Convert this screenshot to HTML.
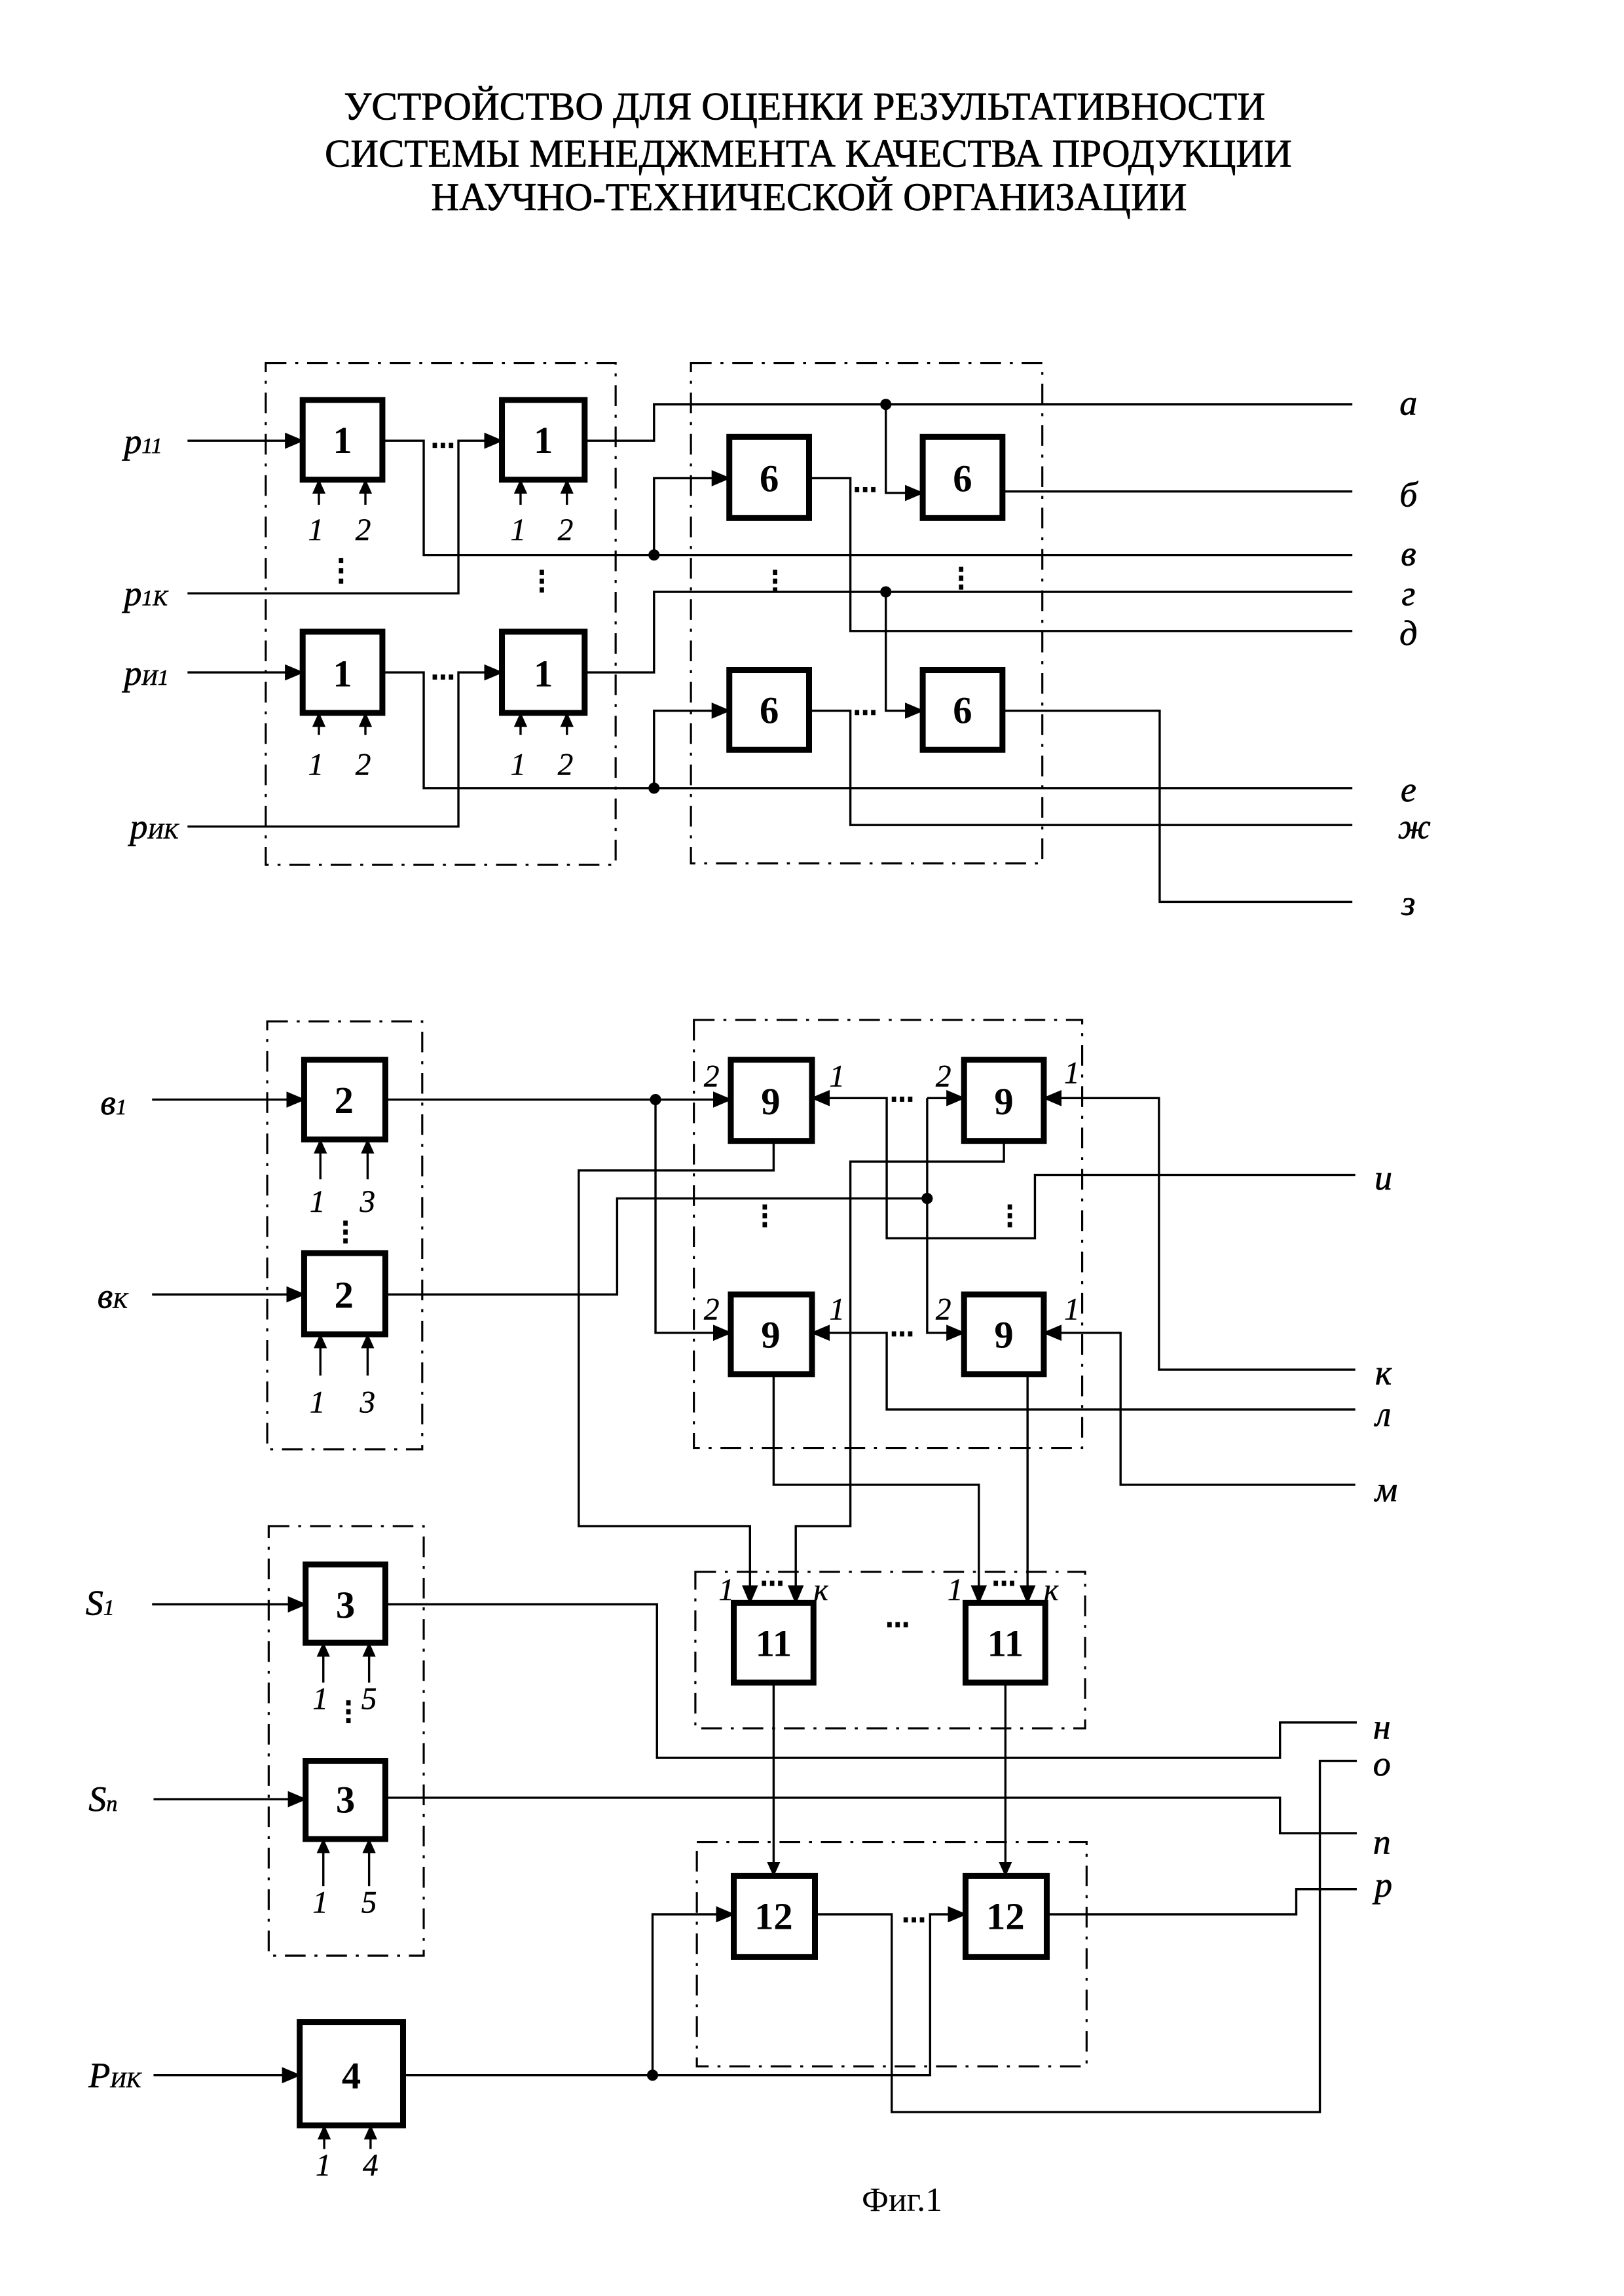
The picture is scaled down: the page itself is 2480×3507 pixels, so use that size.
<!DOCTYPE html>
<html><head><meta charset="utf-8">
<style>
html,body{margin:0;padding:0;background:#fff;}
svg{display:block;}
text{font-family:"Liberation Serif","DejaVu Serif",serif;fill:#000;}
.t{font-size:27px;stroke:#000;stroke-width:0.35;}
.n{font-size:26px;font-weight:bold;text-anchor:middle;}
.l{font-size:24px;font-style:italic;stroke:#000;stroke-width:0.3;}
.s{font-size:21px;font-style:italic;text-anchor:middle;stroke:#000;stroke-width:0.2;}
.sub{font-size:15px;font-style:italic;}
.w{fill:none;stroke:#000;stroke-width:1.5;}
.b{fill:#fff;stroke:#000;stroke-width:4;}
.d{fill:none;stroke:#000;stroke-width:1.4;stroke-dasharray:14,6,2,6;}
</style></head>
<body>
<svg width="2480" height="3507" viewBox="0 0 1100 1555.6" preserveAspectRatio="none" xmlns="http://www.w3.org/2000/svg">
<defs>
<marker id="a" markerUnits="userSpaceOnUse" markerWidth="13" markerHeight="11" refX="12" refY="5.5" orient="auto"><path d="M0,0 L13,5.5 L0,11 z" fill="#000"/></marker>
<marker id="m" markerUnits="userSpaceOnUse" markerWidth="10" markerHeight="9" refX="9.5" refY="4.5" orient="auto"><path d="M0,0 L10,4.5 L0,9 z" fill="#000"/></marker>
</defs>
<rect width="1100" height="1556" fill="#fff"/>

<text class="t" x="233" y="81" textLength="624" lengthAdjust="spacingAndGlyphs">УСТРОЙСТВО ДЛЯ ОЦЕНКИ РЕЗУЛЬТАТИВНОСТИ</text>
<text class="t" x="220" y="113" textLength="655" lengthAdjust="spacingAndGlyphs">СИСТЕМЫ МЕНЕДЖМЕНТА КАЧЕСТВА ПРОДУКЦИИ</text>
<text class="t" x="292" y="142.5" textLength="512" lengthAdjust="spacingAndGlyphs">НАУЧНО-ТЕХНИЧЕСКОЙ ОРГАНИЗАЦИИ</text>

<rect class="d" x="180" y="246" width="237" height="340"/>
<rect class="d" x="468" y="246" width="238" height="339"/>

<path class="w" d="M127,298.6 H205" marker-end="url(#a)"/>
<path class="w" d="M259,298.6 H287 V376 H916"/>
<path class="w" d="M127,402 H310.5 V298.6 H340" marker-end="url(#a)"/>
<path class="w" d="M396,298.6 H443 V274 H916"/>
<path class="w" d="M443,376 V324 H494" marker-end="url(#a)"/>
<path class="w" d="M600,274 V334 H625" marker-end="url(#a)"/>
<path class="w" d="M548,324 H576 V427.5 H916"/>
<path class="w" d="M679,333 H916"/>
<path class="w" d="M127,455.6 H205" marker-end="url(#a)"/>
<path class="w" d="M259,455.6 H287 V534 H916"/>
<path class="w" d="M127,560 H310.5 V455.6 H340" marker-end="url(#a)"/>
<path class="w" d="M396,455.6 H443 V401 H916"/>
<path class="w" d="M443,534 V481.5 H494" marker-end="url(#a)"/>
<path class="w" d="M600,401 V481.5 H625" marker-end="url(#a)"/>
<path class="w" d="M548,481.5 H576 V559 H916"/>
<path class="w" d="M679,481.5 H785.5 V611 H916"/>
<circle cx="443" cy="376" r="3.8"/><circle cx="443" cy="534" r="3.8"/>
<circle cx="600" cy="274" r="3.8"/><circle cx="600" cy="401" r="3.8"/>

<g class="w">
<path d="M216,342 V325" marker-end="url(#m)"/><path d="M247.5,342 V325" marker-end="url(#m)"/>
<path d="M352.6,342 V325" marker-end="url(#m)"/><path d="M384,342 V325" marker-end="url(#m)"/>
<path d="M216,498 V483" marker-end="url(#m)"/><path d="M247.5,498 V483" marker-end="url(#m)"/>
<path d="M352.6,498 V483" marker-end="url(#m)"/><path d="M384,498 V483" marker-end="url(#m)"/>
</g>
<text class="s" x="214" y="366">1</text><text class="s" x="246" y="366">2</text>
<text class="s" x="351" y="366">1</text><text class="s" x="383" y="366">2</text>
<text class="s" x="214" y="525">1</text><text class="s" x="246" y="525">2</text>
<text class="s" x="351" y="525">1</text><text class="s" x="383" y="525">2</text>

<rect class="b" x="205" y="271" width="54" height="54"/>
<rect class="b" x="340" y="271" width="56" height="54"/>
<rect class="b" x="205" y="428" width="54" height="55"/>
<rect class="b" x="340" y="428" width="56" height="55"/>
<rect class="b" x="494" y="296" width="54" height="55"/>
<rect class="b" x="625" y="296" width="54" height="55"/>
<rect class="b" x="494" y="454" width="54" height="54"/>
<rect class="b" x="625" y="454" width="54" height="54"/>
<text class="n" x="232" y="307">1</text><text class="n" x="368" y="307">1</text>
<text class="n" x="232" y="465">1</text><text class="n" x="368" y="465">1</text>
<text class="n" x="521" y="333">6</text><text class="n" x="652" y="333">6</text>
<text class="n" x="521" y="490">6</text><text class="n" x="652" y="490">6</text>

<g fill="#000">
<rect x="293" y="300" width="3" height="3.5"/><rect x="298.5" y="300" width="3" height="3.5"/><rect x="304" y="300" width="3" height="3.5"/>
<rect x="293" y="457" width="3" height="3.5"/><rect x="298.5" y="457" width="3" height="3.5"/><rect x="304" y="457" width="3" height="3.5"/>
<rect x="579" y="330" width="3" height="3.5"/><rect x="584.5" y="330" width="3" height="3.5"/><rect x="590" y="330" width="3" height="3.5"/>
<rect x="579" y="481" width="3" height="3.5"/><rect x="584.5" y="481" width="3" height="3.5"/><rect x="590" y="481" width="3" height="3.5"/>
<rect x="229.5" y="378" width="3" height="3.5"/><rect x="229.5" y="385" width="3" height="3.5"/><rect x="229.5" y="392" width="3" height="3.5"/>
<rect x="365.5" y="386" width="3" height="3.5"/><rect x="365.5" y="392" width="3" height="3.5"/><rect x="365.5" y="398" width="3" height="3.5"/>
<rect x="523.5" y="386" width="3" height="3.5"/><rect x="523.5" y="392" width="3" height="3.5"/><rect x="523.5" y="398" width="3" height="3.5"/>
<rect x="649.5" y="384" width="3" height="3.5"/><rect x="649.5" y="390" width="3" height="3.5"/><rect x="649.5" y="396" width="3" height="3.5"/>
</g>

<text class="l" x="84" y="307" font-size="26">p<tspan class="sub">11</tspan></text>
<text class="l" x="84" y="410" font-size="26">p<tspan class="sub">1К</tspan></text>
<text class="l" x="84" y="464" font-size="26">p<tspan class="sub">И1</tspan></text>
<text class="l" x="88" y="568" font-size="26">p<tspan class="sub">ИК</tspan></text>
<g class="l" text-anchor="middle">
<text x="954" y="281">а</text><text x="954" y="343">б</text><text x="954" y="383">в</text>
<text x="954" y="410">г</text><text x="954" y="437">д</text><text x="954" y="543">е</text>
<text x="958" y="568">ж</text><text x="954" y="620">з</text>
</g>

<rect class="d" x="181" y="692" width="105" height="290"/>
<rect class="d" x="470" y="691" width="263" height="290"/>

<path class="w" d="M103,745 H206" marker-end="url(#a)"/>
<path class="w" d="M103,877 H206" marker-end="url(#a)"/>
<path class="w" d="M261,745 H495" marker-end="url(#a)"/>
<path class="w" d="M444,745 V903 H495" marker-end="url(#a)"/>
<path class="w" d="M261,877 H418 V812 H628"/>
<path class="w" d="M628,744 H653" marker-end="url(#a)"/>
<path class="w" d="M628,744 V903 H653" marker-end="url(#a)"/>
<path class="w" d="M918,796 H701 V839 H600.6 V744 H550" marker-end="url(#a)"/>
<path class="w" d="M918,928 H785 V744 H707" marker-end="url(#a)"/>
<path class="w" d="M918,955 H600.6 V903 H550" marker-end="url(#a)"/>
<path class="w" d="M918,1006 H759 V903 H707" marker-end="url(#a)"/>
<path class="w" d="M524,773 V793 H392 V1034 H508 V1086" marker-end="url(#a)"/>
<path class="w" d="M680,773 V787 H576 V1034 H539 V1086" marker-end="url(#a)"/>
<path class="w" d="M524,931 V1006 H663 V1086" marker-end="url(#a)"/>
<path class="w" d="M696,931 V1086" marker-end="url(#a)"/>
<circle cx="444" cy="745" r="3.8"/><circle cx="628" cy="812" r="3.8"/>

<g class="w">
<path d="M217,799 V772" marker-end="url(#m)"/><path d="M249,799 V772" marker-end="url(#m)"/>
<path d="M217,932 V904" marker-end="url(#m)"/><path d="M249,932 V904" marker-end="url(#m)"/>
</g>
<text class="s" x="215" y="821">1</text><text class="s" x="249" y="821">3</text>
<text class="s" x="215" y="957">1</text><text class="s" x="249" y="957">3</text>

<rect class="b" x="206" y="718" width="55" height="54"/>
<rect class="b" x="206" y="849" width="55" height="55"/>
<rect class="b" x="495" y="718" width="55" height="55"/>
<rect class="b" x="653" y="718" width="54" height="55"/>
<rect class="b" x="495" y="877" width="55" height="54"/>
<rect class="b" x="653" y="877" width="54" height="54"/>
<text class="n" x="233" y="754">2</text><text class="n" x="233" y="886">2</text>
<text class="n" x="522" y="755">9</text><text class="n" x="680" y="755">9</text>
<text class="n" x="522" y="913">9</text><text class="n" x="680" y="913">9</text>

<text class="s" x="482" y="736">2</text><text class="s" x="567" y="736">1</text>
<text class="s" x="639" y="736">2</text><text class="s" x="726" y="734">1</text>
<text class="s" x="482" y="894">2</text><text class="s" x="567" y="894">1</text>
<text class="s" x="639" y="894">2</text><text class="s" x="726" y="894">1</text>

<g fill="#000">
<rect x="604" y="743" width="3" height="3.5"/><rect x="609.5" y="743" width="3" height="3.5"/><rect x="615" y="743" width="3" height="3.5"/>
<rect x="604" y="902" width="3" height="3.5"/><rect x="609.5" y="902" width="3" height="3.5"/><rect x="615" y="902" width="3" height="3.5"/>
<rect x="232.5" y="827" width="3" height="3.5"/><rect x="232.5" y="833" width="3" height="3.5"/><rect x="232.5" y="839" width="3" height="3.5"/>
<rect x="516.5" y="816" width="3" height="3.5"/><rect x="516.5" y="822" width="3" height="3.5"/><rect x="516.5" y="828" width="3" height="3.5"/>
<rect x="682.5" y="816" width="3" height="3.5"/><rect x="682.5" y="822" width="3" height="3.5"/><rect x="682.5" y="828" width="3" height="3.5"/>
</g>

<text class="l" x="68" y="755">в<tspan class="sub">1</tspan></text>
<text class="l" x="66" y="886">в<tspan class="sub">К</tspan></text>
<g class="l" text-anchor="middle">
<text x="937" y="806">и</text><text x="937" y="938">к</text><text x="937" y="966">л</text><text x="939" y="1017">м</text>
</g>

<rect class="d" x="182" y="1034" width="105" height="291"/>
<rect class="d" x="471" y="1065" width="264" height="106"/>
<rect class="d" x="472" y="1248" width="264" height="152"/>

<path class="w" d="M103,1087 H207" marker-end="url(#a)"/>
<path class="w" d="M104,1219 H207" marker-end="url(#a)"/>
<path class="w" d="M104,1406 H203" marker-end="url(#a)"/>
<path class="w" d="M261,1087 H445 V1191 H867 V1167 H919"/>
<path class="w" d="M261,1218 H867 V1242 H919"/>
<path class="w" d="M524,1140 V1271" marker-end="url(#m)"/>
<path class="w" d="M681,1140 V1271" marker-end="url(#m)"/>
<path class="w" d="M442,1405 V1297 H497" marker-end="url(#a)"/>
<path class="w" d="M273,1406 H630 V1297 H654" marker-end="url(#a)"/>
<path class="w" d="M552,1297 H604 V1431 H894 V1193 H919"/>
<path class="w" d="M709,1297 H878 V1280 H919"/>
<circle cx="442" cy="1406" r="3.8"/>

<g class="w">
<path d="M219,1140 V1113" marker-end="url(#m)"/><path d="M250,1140 V1113" marker-end="url(#m)"/>
<path d="M219,1278 V1246" marker-end="url(#m)"/><path d="M250,1278 V1246" marker-end="url(#m)"/>
<path d="M219.6,1456 V1440" marker-end="url(#m)"/><path d="M251,1456 V1440" marker-end="url(#m)"/>
</g>
<text class="s" x="217" y="1158">1</text><text class="s" x="250" y="1158">5</text>
<text class="s" x="217" y="1296">1</text><text class="s" x="250" y="1296">5</text>
<text class="s" x="219" y="1474">1</text><text class="s" x="251" y="1474">4</text>

<rect class="b" x="207" y="1060" width="54" height="53"/>
<rect class="b" x="207" y="1193" width="54" height="53"/>
<rect class="b" x="203" y="1370" width="70" height="70"/>
<rect class="b" x="497" y="1086" width="54" height="54"/>
<rect class="b" x="654" y="1086" width="54" height="54"/>
<rect class="b" x="497" y="1271" width="55" height="55"/>
<rect class="b" x="654" y="1271" width="55" height="55"/>
<text class="n" x="234" y="1096">3</text><text class="n" x="234" y="1228">3</text>
<text class="n" x="238" y="1415">4</text>
<text class="n" x="524" y="1122">11</text><text class="n" x="681" y="1122">11</text>
<text class="n" x="524" y="1307">12</text><text class="n" x="681" y="1307">12</text>

<text class="s" x="492" y="1084">1</text><text class="s" x="556" y="1084">к</text>
<text class="s" x="647" y="1084">1</text><text class="s" x="712" y="1084">к</text>

<g fill="#000">
<rect x="516" y="1071" width="3" height="3.5"/><rect x="521.5" y="1071" width="3" height="3.5"/><rect x="527" y="1071" width="3" height="3.5"/>
<rect x="673" y="1071" width="3" height="3.5"/><rect x="678.5" y="1071" width="3" height="3.5"/><rect x="684" y="1071" width="3" height="3.5"/>
<rect x="601" y="1099" width="3" height="3.5"/><rect x="606.5" y="1099" width="3" height="3.5"/><rect x="612" y="1099" width="3" height="3.5"/>
<rect x="612" y="1299" width="3" height="3.5"/><rect x="617.5" y="1299" width="3" height="3.5"/><rect x="623" y="1299" width="3" height="3.5"/>
<rect x="234.5" y="1152" width="3" height="3.5"/><rect x="234.5" y="1158" width="3" height="3.5"/><rect x="234.5" y="1164" width="3" height="3.5"/>
</g>

<text class="l" x="58" y="1094" font-size="26">S<tspan class="sub">1</tspan></text>
<text class="l" x="60" y="1227" font-size="26">S<tspan class="sub" font-size="19">n</tspan></text>
<text class="l" x="60" y="1414" font-size="26">P<tspan class="sub" font-size="18">ИК</tspan></text>
<g class="l" text-anchor="middle">
<text x="936" y="1178">н</text><text x="936" y="1203">о</text><text x="936" y="1256">п</text><text x="937" y="1285">р</text>
</g>

<text x="611" y="1498" font-size="23" text-anchor="middle">Фиг.1</text>
</svg>
</body></html>
